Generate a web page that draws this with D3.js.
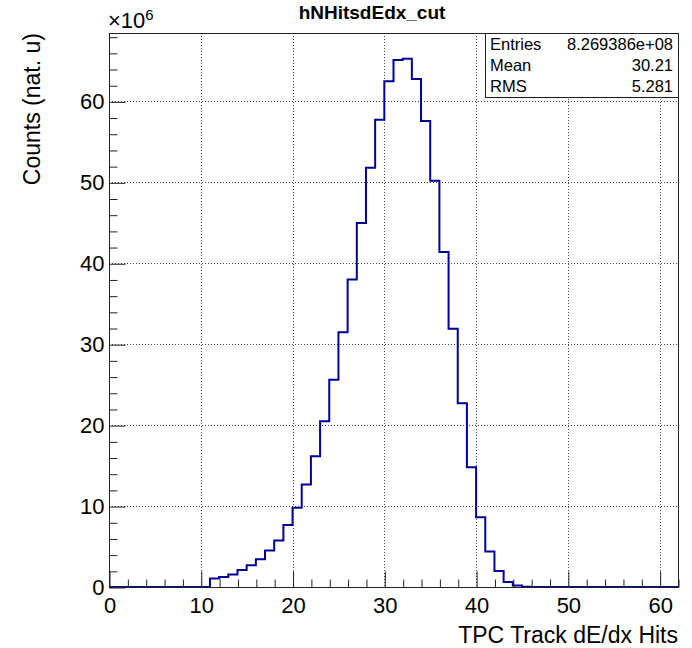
<!DOCTYPE html>
<html>
<head>
<meta charset="utf-8">
<script src="https://cdn.jsdelivr.net/npm/d3@7/dist/d3.min.js"></script>
<style>
  html, body { margin: 0; padding: 0; background: #fff; }
  svg { display: block; font-family: "Liberation Sans", Arial, Helvetica, sans-serif; }
</style>
</head>
<body>
<svg id="chart" width="692" height="648"></svg>
<script>
// ---- data (values in units of 10^6) ----
const binLow = 0;
const binWidth = 1;
const counts = [
  0, 0, 0, 0, 0, 0, 0, 0, 0, 0,          // 0-9
  0, 1.04, 1.23, 1.53, 2.10, 2.68, 3.42, 4.50, 5.74, 7.65,   // 10-19
  9.80, 12.66, 16.15, 20.47, 25.60, 31.48, 38.00, 44.97, 51.80, 57.74, // 20-29
  62.50, 65.10, 65.27, 62.76, 57.58, 50.20, 41.40, 31.90, 22.70, 14.80, // 30-39
  8.63, 4.40, 1.97, 0.62, 0.20, 0.04, 0, 0, 0, 0,   // 40-49
  0, 0, 0, 0, 0, 0, 0, 0, 0, 0,          // 50-59
  0, 0                                   // 60-61
];
const xTicks = [0, 10, 20, 30, 40, 50, 60];
const yTicks = [0, 10, 20, 30, 40, 50, 60];
const statLabels = ["Entries", "Mean", "RMS"];
const statValues = ["8.269386e+08", "30.21", "5.281"];
const title = "hNHitsdEdx_cut";
const xTitle = "TPC Track dE/dx Hits";
const yTitle = "Counts (nat. u)";

// ---- layout ----
const L = 109, R = 678, T = 33, B = 587;
const xMax = binLow + counts.length * binWidth; // 62
const yMax = 68.45;

const svg = d3.select("#chart");
const x = d3.scaleLinear().domain([binLow, xMax]).range([L, R]);
const y = d3.scaleLinear().domain([0, yMax]).range([B, T]);

// grid
const grid = svg.append("g").attr("stroke", "#444").attr("stroke-width", 1)
  .attr("stroke-dasharray", "1,2").attr("fill", "none");
xTicks.filter(t => t > 0).forEach(t => {
  grid.append("line").attr("x1", Math.round(x(t)) + 0.5).attr("x2", Math.round(x(t)) + 0.5)
    .attr("y1", T).attr("y2", B);
});
yTicks.filter(t => t > 0).forEach(t => {
  grid.append("line").attr("y1", Math.round(y(t)) + 0.5).attr("y2", Math.round(y(t)) + 0.5)
    .attr("x1", L).attr("x2", R);
});

// histogram outline
const pts = [[binLow, 0]];
counts.forEach((c, i) => {
  const lo = binLow + i * binWidth;
  pts.push([lo, c], [lo + binWidth, c]);
});
pts.push([xMax, 0]);
svg.append("path")
  .datum(pts)
  .attr("fill", "none")
  .attr("stroke", "#000099")
  .attr("stroke-width", 2)
  .attr("stroke-linejoin", "miter")
  .attr("d", d3.line().x(d => x(d[0])).y(d => y(d[1])));

// frame
svg.append("rect").attr("x", L + 0.5).attr("y", T + 0.5)
  .attr("width", R - L).attr("height", B - T)
  .attr("fill", "none").attr("stroke", "#222").attr("stroke-width", 1);

// axes
const minorX = d3.range(0, xMax + 0.01, 2).filter(v => v % 10 !== 0);
const minorY = d3.range(0, yMax, 2).filter(v => v % 10 !== 0);

const gx = svg.append("g").attr("transform", `translate(0.5,${B + 0.5})`);
gx.call(d3.axisBottom(x).tickValues(xTicks).tickSize(-16).tickPadding(10).tickFormat(d3.format("d")));
gx.append("g").call(d3.axisBottom(x).tickValues(minorX).tickSize(-8).tickFormat(""));

const gy = svg.append("g").attr("transform", `translate(${L + 0.5},0.5)`);
gy.call(d3.axisLeft(y).tickValues(yTicks).tickSize(-16).tickPadding(5).tickFormat(d3.format("d")));
gy.append("g").call(d3.axisLeft(y).tickValues(minorY).tickSize(-8).tickFormat(""));

[gx, gy].forEach(g => {
  g.selectAll(".domain").remove();
  g.selectAll("line").attr("stroke", "#222");
  g.selectAll("text").attr("font-size", 22).attr("fill", "#000")
    .attr("font-family", "'Liberation Sans', Arial, sans-serif");
});

// exponent label
const ex = svg.append("text").attr("x", 108).attr("y", 28)
  .attr("font-size", 22).attr("fill", "#000");
ex.append("tspan").text("\u00d710");
ex.append("tspan").attr("font-size", 15).attr("dy", -8).text("6");

// titles
svg.append("text").attr("x", 372).attr("y", 19).attr("text-anchor", "middle")
  .attr("font-size", 19).attr("font-weight", "bold").text(title);
svg.append("text").attr("x", R).attr("y", 643).attr("text-anchor", "end")
  .attr("font-size", 23).text(xTitle);
svg.append("text").attr("transform", `translate(40,${T}) rotate(-90)`)
  .attr("text-anchor", "end").attr("font-size", 23).text(yTitle);

// stats box
const bx0 = 485, by0 = 33, bw = R - bx0, bh = 64;
svg.append("rect").attr("x", bx0 + 0.5).attr("y", by0 + 0.5).attr("width", bw).attr("height", bh)
  .attr("fill", "#fff").attr("stroke", "#222").attr("stroke-width", 1);
statLabels.forEach((s, i) => {
  const yy = by0 + bh / 3 * (i + 0.5) + 6;
  svg.append("text").attr("x", bx0 + 5).attr("y", yy).attr("font-size", 16.5).text(s);
  svg.append("text").attr("x", R - 5).attr("y", yy).attr("text-anchor", "end")
    .attr("font-size", 16.5).text(statValues[i]);
});
</script>
</body>
</html>
